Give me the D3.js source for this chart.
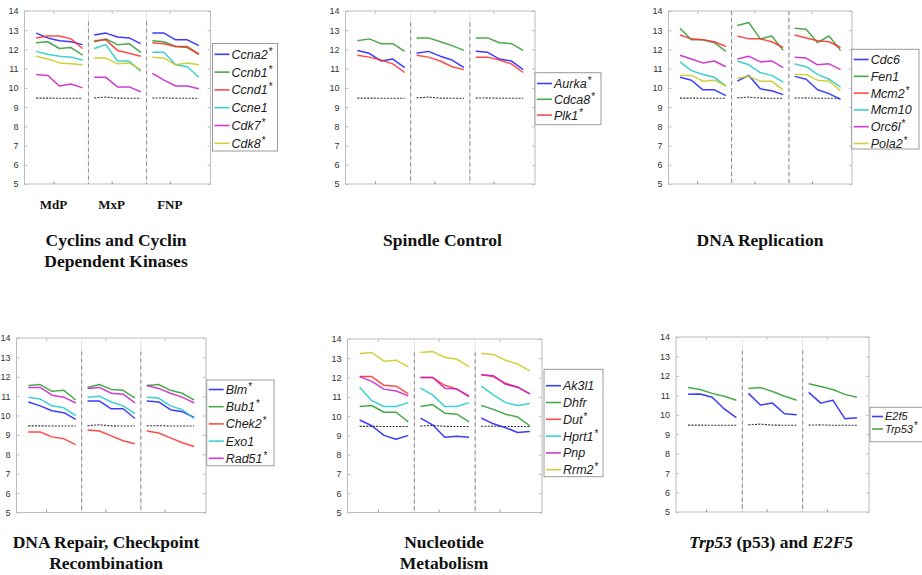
<!DOCTYPE html>
<html>
<head>
<meta charset="utf-8">
<script src="https://cdnjs.cloudflare.com/ajax/libs/d3/7.8.5/d3.min.js"></script>
<style>
	body { margin: 0; background: #fff; }
	svg text { font-family: "Liberation Sans", Arial, sans-serif; }
	.title { font-family: "Liberation Serif", "Times New Roman", serif; font-weight: bold; font-size: 17.5px; fill: #111; }
	.grp { font-family: "Liberation Serif", "Times New Roman", serif; font-weight: bold; font-size: 13px; fill: #111; }
</style>
</head>
<body>
<script>

var width = 922,
	height = 575;

var groups = ["MdP", "MxP", "FNP"];
var yTicks = [5, 6, 7, 8, 9, 10, 11, 12, 13, 14];
var refLine = [9.47, 9.47, 9.46, 9.46, 9.46, 9.48, 9.52, 9.47, 9.46, 9.46, 9.47, 9.48, 9.46, 9.46, 9.46];

var colors = ["#1a1aff", "#2a9a2a", "#ff2a2a", "#1ac8c8", "#c81ac8", "#c8c81a"];

// cyclins
var cyclinGenes = ["Ccna2", "Ccnb1", "Ccnd1", "Ccne1", "Cdk7", "Cdk8"];
var cyclinStar = [true, true, true, false, true, true];
var cyclinValues = [
	[12.85, 12.6, 12.45, 12.4, 12.25, 12.75, 12.85, 12.65, 12.6, 12.3, 12.85, 12.85, 12.5, 12.5, 12.2],
	[12.35, 12.4, 12.05, 12.1, 11.7, 12.4, 12.55, 12.25, 12.3, 11.85, 12.45, 12.4, 12.15, 12.1, 11.75],
	[12.6, 12.7, 12.7, 12.55, 12.05, 12.45, 12.5, 11.95, 11.8, 11.65, 12.35, 12.3, 12.15, 12.15, 11.75],
	[11.9, 11.75, 11.65, 11.6, 11.45, 12.05, 12.25, 11.4, 11.4, 10.85, 11.85, 11.85, 11.2, 11.1, 10.55],
	[10.7, 10.65, 10.1, 10.2, 10.0, 10.55, 10.55, 10.05, 10.05, 9.8, 10.75, 10.4, 10.1, 10.1, 9.95],
	[11.65, 11.5, 11.3, 11.25, 11.2, 11.55, 11.55, 11.25, 11.3, 10.95, 11.6, 11.55, 11.2, 11.3, 11.2]
];

// spindle control
var spindleGenes = ["Aurka", "Cdca8", "Plk1"];
var spindleStar = [true, true, true];
var spindleValues = [
	[11.95, 11.8, 11.4, 11.5, 11.05, 11.8, 11.9, 11.65, 11.45, 11.05, 11.9, 11.85, 11.5, 11.4, 10.95],
	[12.45, 12.55, 12.3, 12.3, 11.9, 12.6, 12.6, 12.4, 12.2, 11.95, 12.6, 12.6, 12.35, 12.3, 11.95],
	[11.7, 11.6, 11.45, 11.25, 10.8, 11.7, 11.6, 11.4, 11.1, 10.95, 11.6, 11.6, 11.45, 11.25, 10.8]
];

// dna replication
var replGenes = ["Cdc6", "Fen1", "Mcm2", "Mcm10", "Orc6l", "Pola2"];
var replStar = [false, false, true, false, true, true];
var replValues = [
	[10.55, 10.4, 9.9, 9.9, 9.6, 10.35, 10.65, 9.95, 9.85, 9.65, 10.6, 10.45, 9.9, 9.7, 9.4],
	[13.1, 12.5, 12.5, 12.35, 11.9, 13.25, 13.4, 12.55, 12.7, 11.95, 13.1, 13.05, 12.35, 12.7, 11.95],
	[12.75, 12.55, 12.5, 12.4, 12.15, 12.7, 12.55, 12.55, 12.4, 12.1, 12.75, 12.6, 12.45, 12.4, 12.1],
	[11.35, 10.9, 10.7, 10.55, 10.1, 11.4, 11.2, 10.8, 10.65, 10.3, 11.25, 11.1, 10.7, 10.45, 10.05],
	[11.7, 11.5, 11.3, 11.4, 11.1, 11.5, 11.65, 11.35, 11.4, 11.05, 11.6, 11.55, 11.2, 11.25, 10.95],
	[10.65, 10.65, 10.35, 10.4, 10.1, 10.5, 10.6, 10.35, 10.35, 9.9, 10.7, 10.7, 10.4, 10.35, 9.85]
];

// dna repair
var repairGenes = ["Blm", "Bub1", "Chek2", "Exo1", "Rad51"];
var repairStar = [true, true, true, false, true];
var repairColors = ["#1a1aff", "#2a9a2a", "#ff2a2a", "#1ac8c8", "#c81ac8"];
var repairValues = [
	[10.7, 10.5, 10.25, 10.15, 9.8, 10.75, 10.75, 10.35, 10.35, 9.85, 10.75, 10.7, 10.3, 10.2, 9.9],
	[11.55, 11.6, 11.25, 11.3, 10.8, 11.45, 11.6, 11.35, 11.3, 10.9, 11.55, 11.6, 11.3, 11.15, 10.8],
	[9.15, 9.15, 8.9, 8.8, 8.5, 9.25, 9.2, 8.95, 8.7, 8.55, 9.2, 9.1, 8.85, 8.6, 8.4],
	[10.95, 10.85, 10.5, 10.4, 10.0, 10.95, 11.0, 10.7, 10.5, 10.1, 10.95, 10.9, 10.5, 10.3, 9.85],
	[11.45, 11.45, 11.05, 10.95, 10.65, 11.4, 11.45, 11.15, 11.1, 10.65, 11.55, 11.4, 11.15, 10.95, 10.65]
];

// nucleotide metabolism
var nucGenes = ["Ak3l1", "Dhfr", "Dut", "Hprt1", "Pnp", "Rrm2"];
var nucStar = [false, false, true, true, false, true];
var nucValues = [
	[9.8, 9.5, 9.0, 8.8, 9.0, 9.9, 9.55, 8.9, 8.95, 8.9, 9.9, 9.6, 9.4, 9.15, 9.2],
	[10.5, 10.55, 10.2, 10.2, 9.7, 10.5, 10.6, 10.15, 10.1, 9.7, 10.55, 10.35, 10.1, 9.95, 9.5],
	[12.05, 12.05, 11.6, 11.55, 11.15, 12.0, 12.0, 11.6, 11.4, 11.05, 12.15, 12.05, 11.7, 11.5, 11.15],
	[11.5, 10.8, 10.5, 10.5, 10.7, 11.45, 11.1, 10.5, 10.5, 10.7, 11.55, 11.1, 10.7, 10.55, 10.65],
	[12.05, 11.8, 11.4, 11.3, 11.05, 12.0, 12.0, 11.45, 11.4, 11.0, 12.15, 12.1, 11.65, 11.5, 11.15],
	[13.25, 13.3, 12.85, 12.9, 12.55, 13.3, 13.35, 13.05, 12.95, 12.55, 13.25, 13.2, 12.9, 12.7, 12.35]
];

// trp53 and e2f5
var p53Genes = ["E2f5", "Trp53"];
var p53Star = [false, true];
var p53Values = [
	[11.05, 11.07, 10.9, 10.3, 9.85, 11.1, 10.5, 10.6, 10.05, 10.0, 11.15, 10.6, 10.75, 9.8, 9.85],
	[11.4, 11.3, 11.1, 10.95, 10.75, 11.35, 11.4, 11.2, 10.95, 10.75, 11.6, 11.45, 11.3, 11.05, 10.9]
];

var svg = d3.select("body").append("svg")
	.attr("width", width)
	.attr("height", height);

// layout of each panel: box, legend, title
var panels = [
	{ genes: cyclinGenes, star: cyclinStar, values: cyclinValues, colors: colors,
	  box: [24.5, 11, 210.5, 184], sepTop: 13.45, xLabels: true,
	  legend: { x: 212.5, y: 43.5, w: 65, h: 107.5, row0: 54.3, step: 17.8, sw: 15 },
	  title: [["Cyclins and Cyclin"], ["Dependent Kinases"]], tx: 116, ty: 246 },
	{ genes: spindleGenes, star: spindleStar, values: spindleValues, colors: colors,
	  box: [345.5, 11, 535, 184], sepTop: 13.4,
	  legend: { x: 535, y: 72.7, w: 66, h: 52, row0: 83.5, step: 15.8, sw: 15 },
	  title: [["Spindle Control"]], tx: 442.5, ty: 246 },
	{ genes: replGenes, star: replStar, values: replValues, colors: colors,
	  box: [668.5, 11, 852, 184], sepTop: 14,
	  legend: { x: 851.7, y: 49.3, w: 67.3, h: 99.7, row0: 59.5, step: 16.8, sw: 15 },
	  title: [["DNA Replication"]], tx: 760, ty: 246 },
	{ genes: repairGenes, star: repairStar, values: repairValues, colors: repairColors,
	  box: [16.5, 338, 206, 512.5], sepTop: 13.3,
	  legend: { x: 206.7, y: 380, w: 67.3, h: 85.7, row0: 389.5, step: 17.2, sw: 15 },
	  title: [["DNA Repair, Checkpoint"], ["Recombination"]], tx: 106, ty: 548 },
	{ genes: nucGenes, star: nucStar, values: nucValues, colors: colors,
	  box: [347.5, 339, 542, 512.5], sepTop: 13.3,
	  legend: { x: 544, y: 369.3, w: 59, h: 107.4, row0: 385.7, step: 16.8, sw: 15 },
	  title: [["Nucleotide"], ["Metabolism"]], tx: 444, ty: 548 },
	{ genes: p53Genes, star: p53Star, values: p53Values, colors: colors,
	  box: [676, 337, 869, 512], sepTop: 13.3,
	  legend: { x: 870, y: 407.3, w: 60, h: 34.4, row0: 416.5, step: 12.5, sw: 11, fs: 11 },
	  title: [["Trp53", "i"], [" (p53) and ", ""], ["E2F5", "i"]], tx: 771, ty: 548, inline: true }
];

panels.forEach(drawPanel);

function drawPanel(p) {
	var x = d3.scaleLinear().domain([0, 16]).range([p.box[0], p.box[2]]);
	var y = d3.scaleLinear().domain([5, 14]).range([p.box[3], p.box[1]]);
	var g = svg.append("g");

	// frame
	g.append("rect")
		.attr("x", p.box[0]).attr("y", p.box[1])
		.attr("width", p.box[2] - p.box[0]).attr("height", p.box[3] - p.box[1])
		.attr("fill", "none").attr("stroke", "#bdbdbd").attr("stroke-width", 1);

	// y axis, ticks inside
	var yAxis = d3.axisLeft(y).tickValues(yTicks).tickSize(-3).tickPadding(6).tickFormat(d3.format("d"));
	var ya = g.append("g").attr("transform", "translate(" + p.box[0] + ",0)").call(yAxis);
	ya.select(".domain").remove();
	ya.selectAll("line").attr("stroke", "#bdbdbd");
	ya.selectAll("text").attr("font-size", "9px").attr("fill", "#333")
		.attr("font-family", "'Liberation Sans', Arial, sans-serif");
	var yr = g.append("g").attr("transform", "translate(" + p.box[2] + ",0)")
		.call(d3.axisRight(y).tickValues(yTicks).tickSize(-3).tickFormat(""));
	yr.select(".domain").remove();
	yr.selectAll("line").attr("stroke", "#bdbdbd");

	// x ticks at group centres
	var xb = g.append("g").attr("transform", "translate(0," + p.box[3] + ")")
		.call(d3.axisBottom(x).tickValues([2.5, 7.5, 12.5]).tickSize(-3).tickFormat(""));
	xb.select(".domain").remove();
	xb.selectAll("line").attr("stroke", "#999");
	var xt = g.append("g").attr("transform", "translate(0," + p.box[1] + ")")
		.call(d3.axisTop(x).tickValues([2.5, 7.5, 12.5]).tickSize(-3).tickFormat(""));
	xt.select(".domain").remove();
	xt.selectAll("line").attr("stroke", "#bdbdbd");

	if (p.xLabels) {
		g.selectAll(".grp").data(groups).enter().append("text")
			.attr("class", "grp")
			.attr("x", function(d, i) { return x(2.5 + i * 5); })
			.attr("y", 208.5)
			.attr("text-anchor", "middle")
			.text(function(d) { return d; });
	}

	// group separators
	[5.5, 10.5].forEach(function(s) {
		g.append("line")
			.attr("x1", x(s)).attr("x2", x(s))
			.attr("y1", y(14)).attr("y2", y(5))
			.attr("stroke", "#e4e4e4").attr("stroke-width", 1);
		g.append("line")
			.attr("x1", x(s)).attr("x2", x(s))
			.attr("y1", y(p.sepTop)).attr("y2", y(5))
			.attr("stroke", "#8a8a8a").attr("stroke-width", 1)
			.attr("stroke-dasharray", "4,3");
	});

	var line = d3.line()
		.x(function(d) { return x(d.x); })
		.y(function(d) { return y(d.v); });

	function toPoints(vals) {
		var pts = [[], [], []];
		vals.forEach(function(v, i) {
			var grp = Math.floor(i / 5);
			pts[grp].push({ x: grp * 5 + (i % 5) + 1, v: v });
		});
		return pts;
	}

	// reference (dotted black)
	g.append("g").selectAll("path")
		.data(toPoints(refLine))
	  .enter().append("path")
		.attr("d", line)
		.attr("fill", "none").attr("stroke", "#333").attr("stroke-width", 1.1)
		.attr("stroke-dasharray", "2,1.3");

	p.values.forEach(function(vals, k) {
		g.append("g").selectAll("path")
			.data(toPoints(vals))
		  .enter().append("path")
			.attr("d", line)
			.attr("fill", "none")
			.attr("stroke", p.colors[k])
			.attr("stroke-width", 1.5)
			.attr("stroke-opacity", 0.85)
			.attr("stroke-linejoin", "round");
	});

	// legend
	var L = p.legend;
	var fs = L.fs || 12.5;
	var lg = g.append("g");
	lg.append("rect")
		.attr("x", L.x).attr("y", L.y).attr("width", L.w).attr("height", L.h)
		.attr("fill", "#fff").attr("stroke", "#9a9a9a").attr("stroke-width", 1);
	var items = lg.selectAll(".item").data(p.genes).enter().append("g")
		.attr("transform", function(d, i) { return "translate(0," + (L.row0 + i * L.step) + ")"; });
	items.append("line")
		.attr("x1", L.x + 2).attr("x2", L.x + 2 + L.sw)
		.attr("y1", 0).attr("y2", 0)
		.attr("stroke", function(d, i) { return p.colors[i]; })
		.attr("stroke-width", 1.6).attr("stroke-opacity", 0.85);
	var lt = items.append("text")
		.attr("x", L.x + 4 + L.sw).attr("y", fs * 0.36)
		.attr("font-size", fs + "px").attr("font-style", "italic").attr("fill", "#222");
	lt.append("tspan").text(function(d) { return d; });
	lt.append("tspan")
		.attr("dy", -4).attr("dx", 1)
		.attr("font-size", "10px").attr("font-style", "normal")
		.text(function(d, i) { return p.star[i] ? "*" : ""; });

	// title
	if (p.inline) {
		var t = svg.append("text").attr("class", "title")
			.attr("x", p.tx).attr("y", p.ty).attr("text-anchor", "middle");
		p.title.forEach(function(part) {
			t.append("tspan").attr("font-style", part[1] === "i" ? "italic" : "normal").text(part[0]);
		});
	} else {
		p.title.forEach(function(line, i) {
			svg.append("text").attr("class", "title")
				.attr("x", p.tx).attr("y", p.ty + i * 20.5)
				.attr("text-anchor", "middle")
				.text(line[0]);
		});
	}
}

</script>
</body>
</html>
